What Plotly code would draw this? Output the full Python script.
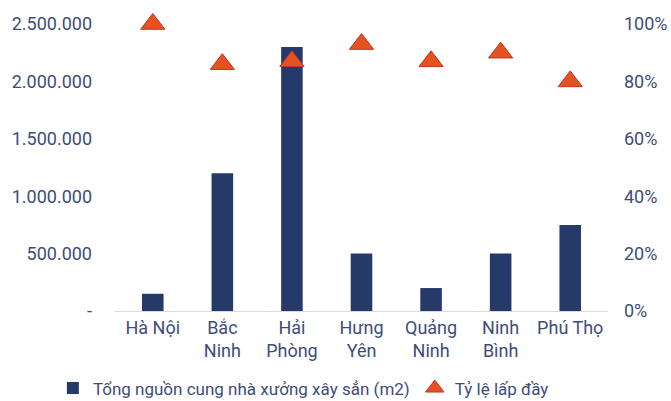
import plotly.graph_objects as go

categories = ["Hà Nội", "Bắc<br>Ninh", "Hải<br>Phòng", "Hưng<br>Yên", "Quảng<br>Ninh", "Ninh<br>Bình", "Phú Thọ"]
supply_m2 = [150000, 1200000, 2300000, 500000, 200000, 500000, 750000]
occupancy = [1.00, 0.86, 0.87, 0.93, 0.87, 0.90, 0.80]
left_ticks = [0, 500000, 1000000, 1500000, 2000000, 2500000]
left_labels = ["-", "500.000", "1.000.000", "1.500.000", "2.000.000", "2.500.000"]
right_ticks = [0, 0.2, 0.4, 0.6, 0.8, 1.0]
right_labels = ["0%", "20%", "40%", "60%", "80%", "100%"]

txt = "#3e4d78"
font_family = "Roboto, 'Open Sans', sans-serif"

fig = go.Figure()
fig.add_trace(go.Bar(
    x=categories, y=supply_m2, name="Tổng nguồn cung nhà xưởng xây sẳn (m2)",
    marker=dict(color="#263a69", line=dict(width=0)), width=0.31, yaxis="y",
))
fig.add_trace(go.Scatter(
    x=categories, y=occupancy, name="Tỷ lệ lấp đầy", mode="markers", yaxis="y2",
    marker=dict(symbol="triangle-up", size=21, color="#e5521f",
                line=dict(color="#c0352a", width=1)),
    cliponaxis=False,
))

fig.update_layout(
    width=671, height=401,
    margin=dict(l=115, r=63, t=24, b=90, autoexpand=False),
    paper_bgcolor="white", plot_bgcolor="white",
    font=dict(family=font_family, size=18, color=txt),
    xaxis=dict(showline=True, linecolor="#d9d9d9", linewidth=1, ticks="",
               showgrid=False, tickfont=dict(size=18, color=txt)),
    yaxis=dict(range=[0, 2500000], tickvals=left_ticks, ticktext=left_labels,
               showgrid=False, zeroline=False, showline=False, ticks="",
               ticklabelstandoff=22, tickfont=dict(size=18, color=txt)),
    yaxis2=dict(range=[0, 1.0], tickvals=right_ticks, ticktext=right_labels,
                overlaying="y", side="right", showgrid=False, zeroline=False,
                showline=False, ticks="", ticklabelstandoff=15,
                tickfont=dict(size=18, color=txt)),
    legend=dict(orientation="h", x=-0.126, xanchor="left", y=-0.27, yanchor="middle",
                font=dict(size=17, color=txt), itemwidth=30, tracegroupgap=0,
                bgcolor="rgba(0,0,0,0)"),
    showlegend=True,
)

fig.write_html("out.html")
